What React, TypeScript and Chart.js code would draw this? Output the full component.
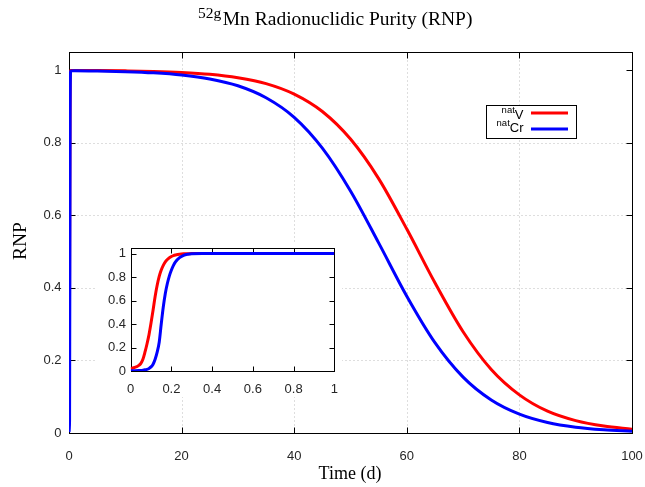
import React, { useEffect, useRef } from "react";
import { Chart, registerables } from "chart.js";
Chart.register(...registerables);

// Main plot (time in days)
const mainTime = [0, 0.1, 0.2, 0.3, 1, 5, 10, 15, 20, 25, 30, 35, 40, 45, 50, 55, 60, 65, 70, 75, 80, 85, 90, 95, 100];
const mainV = [0.02, 0.41, 0.975, 0.999, 0.9993, 0.9989, 0.998, 0.9965, 0.9936, 0.9885, 0.979, 0.963, 0.934, 0.886, 0.81, 0.701, 0.562, 0.414, 0.279, 0.175, 0.105, 0.06, 0.034, 0.019, 0.0105];
const mainCr = [0.003, 0.035, 0.86, 0.998, 0.9986, 0.9978, 0.9959, 0.9926, 0.9866, 0.9758, 0.957, 0.924, 0.87, 0.785, 0.667, 0.524, 0.377, 0.249, 0.154, 0.091, 0.052, 0.029, 0.016, 0.009, 0.005];
const mainXTicks = [0, 20, 40, 60, 80, 100];

// Inset (first day)
const insetTime = [0, 0.02, 0.04, 0.05, 0.06, 0.07, 0.08, 0.09, 0.1, 0.11, 0.12, 0.13, 0.14, 0.15, 0.16, 0.17, 0.18, 0.19, 0.2, 0.21, 0.22, 0.24, 0.26, 0.28, 0.3, 0.35, 0.4, 0.6, 0.8, 1];
const insetV = [0.02, 0.03, 0.048, 0.065, 0.1, 0.16, 0.23, 0.31, 0.41, 0.52, 0.635, 0.73, 0.805, 0.86, 0.9, 0.93, 0.95, 0.965, 0.975, 0.983, 0.988, 0.995, 0.998, 0.999, 1, 1, 1, 1, 1, 1];
const insetCr = [0.003, 0.003, 0.004, 0.005, 0.007, 0.01, 0.014, 0.022, 0.035, 0.058, 0.1, 0.16, 0.245, 0.4, 0.545, 0.66, 0.745, 0.81, 0.86, 0.9, 0.93, 0.965, 0.985, 0.994, 0.998, 1, 1, 1, 1, 1];
const insetXTicks = [0, 0.2, 0.4, 0.6, 0.8, 1];

const yTicks = [0, 0.2, 0.4, 0.6, 0.8, 1];

const seriesLabels = ["V", "Cr"];
const seriesSup = ["nat", "nat"];
const seriesColors = ["#ff0000", "#0000ff"];
const titleSup = "52g";
const titleMain = "Mn Radionuclidic Purity (RNP)";
const xTitle = "Time (d)";
const yTitle = "RNP";

const SANS = "'Liberation Sans', Arial, sans-serif";
const SERIF = "'Liberation Serif', 'Times New Roman', serif";

const fmt = (v: any) => String(Math.round(Number(v) * 10) / 10);

function framePlugin(len: number, grid: boolean) {
  return {
    id: "frameTicks",
    beforeDatasetsDraw(chart: any) {
      const { ctx, chartArea: a, scales } = chart;
      const x = scales.x, y = scales.y;
      const L = Math.round(a.left) + 0.5, R = Math.round(a.right) + 0.5;
      const T = Math.round(a.top) + 0.5, B = Math.round(a.bottom) + 0.5;
      ctx.save();
      if (grid) {
        ctx.strokeStyle = "#bdbdbd";
        ctx.lineWidth = 1;
        ctx.setLineDash([1, 3]);
        x.ticks.forEach((t: any) => {
          const p = Math.round(x.getPixelForValue(t.value)) + 0.5;
          if (p <= L + 1 || p >= R - 1) return;
          ctx.beginPath(); ctx.moveTo(p, B); ctx.lineTo(p, T); ctx.stroke();
        });
        y.ticks.forEach((t: any) => {
          const p = Math.round(y.getPixelForValue(t.value)) + 0.5;
          if (p >= B - 1 || t.value >= 0.99) return;
          ctx.beginPath(); ctx.moveTo(L, p); ctx.lineTo(R, p); ctx.stroke();
        });
        ctx.setLineDash([]);
      }
      ctx.strokeStyle = "#000";
      ctx.lineWidth = 1;
      ctx.strokeRect(L, T, R - L, B - T);
      ctx.beginPath();
      x.ticks.forEach((t: any) => {
        const p = Math.round(x.getPixelForValue(t.value)) + 0.5;
        ctx.moveTo(p, B); ctx.lineTo(p, B - len);
        ctx.moveTo(p, T); ctx.lineTo(p, T + len);
      });
      y.ticks.forEach((t: any) => {
        const p = Math.round(y.getPixelForValue(t.value)) + 0.5;
        ctx.moveTo(L, p); ctx.lineTo(L + len, p);
        ctx.moveTo(R, p); ctx.lineTo(R - len, p);
      });
      ctx.stroke();
      ctx.restore();
    },
  };
}

const textPlugin = {
  id: "texts",
  afterDraw(chart: any) {
    const { ctx } = chart;
    ctx.save();
    ctx.fillStyle = "#000";
    ctx.textBaseline = "alphabetic";
    ctx.textAlign = "left";
    // title
    ctx.font = `15.5px ${SERIF}`;
    const x0 = 198;
    ctx.fillText(titleSup, x0, 18.3);
    const sw = ctx.measureText(titleSup).width;
    ctx.font = `19.5px ${SERIF}`;
    ctx.fillText(titleMain, x0 + sw + 1.5, 25);
    // x title
    ctx.font = `18px ${SERIF}`;
    ctx.textAlign = "center";
    ctx.fillText(xTitle, 350, 479);
    // y title
    ctx.save();
    ctx.translate(25.5, 241);
    ctx.rotate(-Math.PI / 2);
    ctx.font = `19.5px ${SERIF}`;
    ctx.fillText(yTitle, 0, 0);
    ctx.restore();
    // legend
    const bx = 486.5, by = 105.5, bw = 90, bh = 33;
    ctx.fillStyle = "#fff";
    ctx.fillRect(bx, by, bw, bh);
    ctx.strokeStyle = "#000";
    ctx.lineWidth = 1;
    ctx.strokeRect(bx, by, bw, bh);
    const rows = [
      { base: 119, supBase: 113, line: 113 },
      { base: 131.7, supBase: 126.2, line: 129 },
    ];
    rows.forEach((r, i) => {
      ctx.fillStyle = "#000";
      ctx.textAlign = "right";
      ctx.font = `13px ${SANS}`;
      ctx.fillText(seriesLabels[i], 523.5, r.base);
      const w = ctx.measureText(seriesLabels[i]).width;
      ctx.font = `9.5px ${SANS}`;
      ctx.fillText(seriesSup[i], 523.5 - w, r.supBase);
      ctx.strokeStyle = seriesColors[i];
      ctx.lineWidth = 3;
      ctx.beginPath();
      ctx.moveTo(531, r.line);
      ctx.lineTo(568, r.line);
      ctx.stroke();
    });
    ctx.restore();
  },
};

const whiteBg = {
  id: "whiteBg",
  beforeDraw(chart: any) {
    const { ctx, width, height } = chart;
    ctx.save();
    ctx.fillStyle = "#fff";
    ctx.fillRect(0, 0, width, height);
    ctx.restore();
  },
};

function makeDatasets(t: number[], v: number[], cr: number[], bw: number) {
  return [
    {
      label: "natV",
      data: t.map((x, i) => ({ x, y: v[i] })),
      borderColor: seriesColors[0],
      backgroundColor: seriesColors[0],
      borderWidth: bw,
      pointRadius: 0,
      cubicInterpolationMode: "monotone" as const,
      order: 1,
      fill: false,
    },
    {
      label: "natCr",
      data: t.map((x, i) => ({ x, y: cr[i] })),
      borderColor: seriesColors[1],
      backgroundColor: seriesColors[1],
      borderWidth: bw,
      pointRadius: 0,
      cubicInterpolationMode: "monotone" as const,
      order: 0,
      fill: false,
    },
  ];
}

function scaleOpts(xTickVals: number[], yWidth: number, xHeight: number, yPad: number, xPad: number) {
  const zeroPad = (s: any) => {
    s.paddingTop = 0; s.paddingBottom = 0; s.paddingLeft = 0; s.paddingRight = 0;
  };
  const tickFont = { family: SANS, size: 13 };
  const noGrid = { display: false, drawTicks: false, tickLength: 0 };
  return {
    x: {
      type: "linear" as const,
      min: xTickVals[0],
      max: xTickVals[xTickVals.length - 1],
      grid: noGrid,
      border: { display: false },
      afterBuildTicks: (s: any) => { s.ticks = xTickVals.map((value) => ({ value })); },
      ticks: { autoSkip: false, maxRotation: 0, padding: xPad, color: "#262626", font: tickFont, callback: fmt },
      afterFit: (s: any) => { s.height = xHeight; zeroPad(s); },
    },
    y: {
      type: "linear" as const,
      min: 0,
      max: 1.05,
      grid: noGrid,
      border: { display: false },
      afterBuildTicks: (s: any) => { s.ticks = yTicks.map((value) => ({ value })); },
      ticks: { autoSkip: false, padding: yPad, color: "#262626", font: tickFont, callback: fmt },
      afterFit: (s: any) => { s.width = yWidth; zeroPad(s); },
    },
  };
}

const INSET_LEFT = 96;
const INSET_TOP = 242;
const INSET_W = 246;
const INSET_H = 155;

export default function App() {
  const mainRef = useRef<HTMLCanvasElement>(null);
  const insetRef = useRef<HTMLCanvasElement>(null);

  useEffect(() => {
    const main = new Chart(mainRef.current as HTMLCanvasElement, {
      type: "line",
      data: { datasets: makeDatasets(mainTime, mainV, mainCr, 3) as any },
      options: {
        responsive: false,
        animation: false,
        devicePixelRatio: 1,
        layout: { padding: { left: 0, top: 52, right: 13, bottom: 0 } },
        plugins: { legend: { display: false }, title: { display: false }, tooltip: { enabled: false } },
        scales: scaleOpts(mainXTicks, 69, 54, 7.5, 15.5) as any,
      },
      plugins: [whiteBg, framePlugin(6, true), textPlugin],
    });
    const inset = new Chart(insetRef.current as HTMLCanvasElement, {
      type: "line",
      data: { datasets: makeDatasets(insetTime, insetV, insetCr, 3) as any },
      options: {
        responsive: false,
        animation: false,
        devicePixelRatio: 1,
        layout: { padding: { left: 0, top: 247.7 - INSET_TOP, right: INSET_LEFT + INSET_W - 334.3, bottom: 0 } },
        plugins: { legend: { display: false }, title: { display: false }, tooltip: { enabled: false } },
        scales: scaleOpts(insetXTicks, 130.7 - INSET_LEFT, INSET_TOP + INSET_H - 371, 4.7, 10.5) as any,
      },
      plugins: [whiteBg, framePlugin(5, false)],
    });
    return () => {
      main.destroy();
      inset.destroy();
    };
  }, []);

  return (
    <div style={{ position: "absolute", left: 0, top: 0, width: 645, height: 487, background: "#fff" }}>
      <canvas ref={mainRef} width={645} height={487} style={{ position: "absolute", left: 0, top: 0, display: "block" }} />
      <canvas ref={insetRef} width={INSET_W} height={INSET_H} style={{ position: "absolute", left: INSET_LEFT, top: INSET_TOP, display: "block" }} />
    </div>
  );
}
